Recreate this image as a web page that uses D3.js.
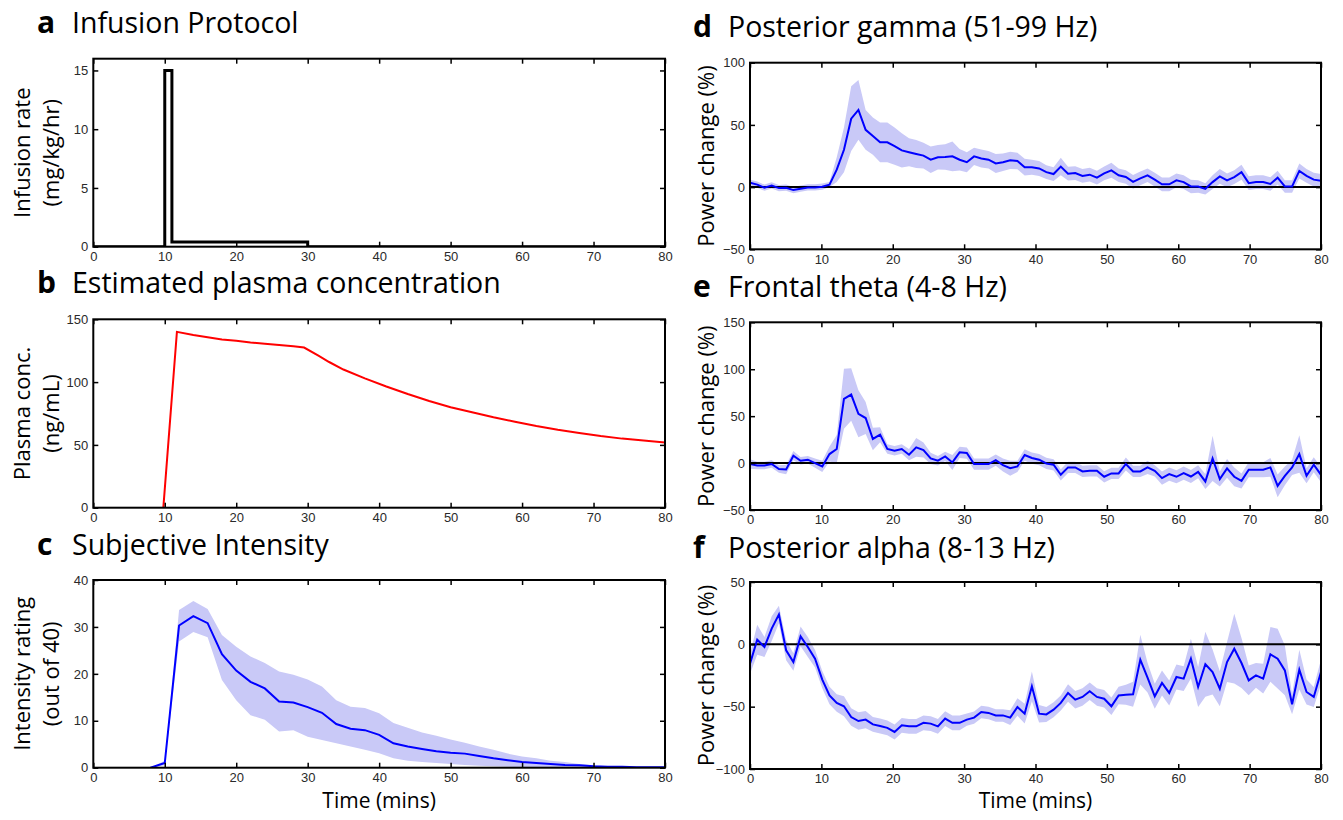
<!DOCTYPE html>
<html><head><meta charset="utf-8">
<script src="https://cdn.jsdelivr.net/npm/d3@7"></script>
<style>body{margin:0;background:#fff;} svg{display:block;}</style>
</head><body>
<svg id="chart" width="1343" height="820"></svg>
<script>
// ---------------- DATA ----------------
const xTicks = [0, 10, 20, 30, 40, 50, 60, 70, 80];

// a: infusion protocol (step path)
const infT    = [0, 10, 10, 11, 11, 30, 30, 80];
const infRate = [0, 0, 15, 15, 0.4, 0.4, 0, 0];
const aTicks = [0, 5, 10, 15];

// b: estimated plasma concentration
const plasmaT = [9.8, 11.7, 14, 16, 18, 20, 22, 24, 26, 28, 29.5, 31.5, 33, 35, 38, 41, 44, 47, 50, 53, 56, 59, 62, 65, 68, 71, 74, 77, 80];
const plasmaC = [0, 140, 137.5, 135.7, 134, 133, 131.5, 130.5, 129.5, 128.5, 127.5, 121, 116, 110, 103, 96.5, 90.5, 85, 80, 76, 72, 68.5, 65, 62, 59.5, 57, 55, 53.5, 52];
const bTicks = [0, 50, 100, 150];

// c: subjective intensity
const intT  = [8,10,12,14,16,18,20,22,24,26,28,30,32,34,36,38,40,42,44,46,48,50,52,54,56,58,60,62,64,66,68,70,72,74,76,78,80];
const intM  = [0,1,30.3,32.3,30.8,24.2,20.7,18.3,16.9,14.1,13.9,12.9,11.7,9.3,8.3,8.0,7.0,5.2,4.5,4.0,3.5,3.2,3.0,2.5,2.0,1.6,1.2,1.0,0.8,0.6,0.5,0.3,0.2,0.2,0.1,0.1,0.1];
const intHi = [0,1.5,33.6,35.5,33.8,28.3,25.8,23.7,22.3,20.5,19.8,18.8,17.3,14.4,13.0,12.7,11.6,9.5,8.5,7.5,6.8,6.0,5.3,4.5,3.8,3.0,2.4,2.0,1.5,1.2,0.8,0.5,0.3,0.3,0.2,0.2,0.2];
const intLo = [0,0.5,26.9,28.9,27.8,18.7,14.4,11.2,10.2,7.7,8.0,6.6,5.9,5.2,4.5,3.8,3.1,2.0,1.5,1.2,1.0,0.8,0.6,0.4,0.3,0.2,0.1,0,0,0,0,0,0,0,0,0,0];
const cTicks = [0, 10, 20, 30, 40];

// EEG sample grid: 80 samples spanning 0-80 min
const eegT = d3.range(80).map(i => i * 80 / 79);

// d: posterior gamma
const gammaM = [3.5,2,-0.5,1.3,-0.8,-0.5,-2.4,-1.3,-0.3,-0.3,
  0.3,2,14,30,55,62,46,41,36,36,
  33,29.5,28,26.6,25.3,22,24,24.2,24.7,22,
  20,24.7,23,22,19,20,21.5,21,16,16,
  15,12,10.5,16.5,10.8,11.3,9,10,7.6,11,
  13.5,9.5,8.1,4.2,7,9.5,6,2.2,2.2,5.4,
  4,0.5,0.5,-1.4,4,8.6,5.4,8,12,3.2,
  4,4,2.5,7.6,0.5,0.5,13,9,6,5];
const gammaE = [2.5,2.5,2.5,2.5,2.5,2.5,2.5,2.5,2.5,2.5,
  2.5,2,10,18,26,24,16,15,16,16,
  15,13.7,11.3,11.3,10.4,10.6,9.8,10.3,12,8.6,
  8,7,7.3,7,7.6,7,7,6.6,6.7,6,
  6,5.5,5.5,7,5.5,5.5,5.5,5.5,5.5,5.5,
  6,5.5,5.5,5.5,5.5,5.5,5.5,5.5,5.5,5.5,
  5.5,5.5,5,4.5,5.5,6,5.5,5.5,6,5.5,
  5.5,5.5,5.5,5.5,5,5,6,5.5,5.5,5.5];
const dTicks = [-50, 0, 50, 100];

// e: frontal theta
const thetaM = [-1,-2.5,-2.5,-1,-6.4,-6.8,7.9,2.5,3.6,0,
  -3.6,9.6,15,68.5,73,52.5,48,25.7,30.3,15,
  13.2,15,8.9,16.8,13.9,5,2.5,7.1,0.7,11.4,
  10.7,-1,-1,-1,3.2,-2.1,-5.4,-3.6,8.6,5.4,
  3.6,-0.4,-1.8,-12.5,-4.6,-4.6,-8.9,-8.2,-8.2,-14.6,
  -11,-11,-1,-8.9,-8.9,-4.6,-8.2,-16,-11.8,-14.6,
  -10.7,-14.3,-9.3,-19.6,5,-17,-5.7,-14.6,-19,-7.1,
  -7.1,-7.1,-4.6,-24.3,-13.6,-4.6,9.6,-13.6,-1.8,-12.5];
const thetaE = [5,4,4,4,4,5,5,4,4,5,
  6,8,15,32,28,25,17,12,8,5,
  5,5,6,10,8,6,5,5,8,6,
  6,6,6,6,6,7,8,6,6,6,
  6,6,6,6,6,6,6,6,6,6,
  6,6,7,6,6,7,6,7,7,7,
  7,7,7,8,24,8,10,10,8,8,
  8,8,10,12,10,8,20,8,8,8];
const eTicks = [-50, 0, 50, 100, 150];

// f: posterior alpha
const alphaM = [-15.5,3.7,-2.1,12.6,24,-4.8,-14.2,6.4,-2.1,-11.5,
  -28.3,-41,-47,-49.7,-58.3,-61.5,-60.4,-64.2,-65.5,-67,
  -70.3,-65,-65.8,-65.8,-63,-63.6,-65.8,-59.6,-63,-63,
  -60.4,-58.8,-54.3,-55,-57,-57,-58.8,-50.3,-55.6,-33.7,
  -55.6,-56.2,-52.4,-47,-39,-44.4,-42.2,-37.7,-42.2,-43.6,
  -49.7,-41,-40.4,-40.1,-12.3,-26.7,-41.7,-31,-39,-26.2,
  -27.5,-11.5,-34.2,-16,-22.2,-35.6,-14.2,-3.5,-15,-28.9,
  -24.9,-27.5,-8,-11.5,-20.9,-48.1,-20.3,-38.2,-42.2,-22.2];
const alphaE = [8,12,8,10,7,8,7,8,8,7,
  7,7,7,8,7,7,7,6,6,6,
  6,6,6,6,6,6,6,6,6,6,
  5,5,5,5,5,5,6,7,8,12,
  7,6,6,6,7,7,7,7,7,7,
  7,7,8,10,20,12,10,10,10,10,
  10,16,16,26,18,14,16,28,20,12,
  10,12,22,24,20,8,16,10,8,10];
const fTicks = [-100, -50, 0, 50];

// ---------------- DRAWING ----------------
const svg = d3.select("#chart");
const BAND = "#c9c9f7", BLUE = "#0000ff";
const L = {x0: 93.3, x1: 665}, R = {x0: 750, x1: 1321};
let clipN = 0;

function panel(o) {
  const g = svg.append("g");
  const x = d3.scaleLinear().domain([0, 80]).range([o.x0, o.x1]);
  const y = d3.scaleLinear().domain(o.yDomain).range([o.yBot, o.yTop]);
  const id = "clip" + (clipN++);
  g.append("clipPath").attr("id", id).append("rect")
    .attr("x", o.x0).attr("y", o.yTop).attr("width", o.x1 - o.x0).attr("height", o.yBot - o.yTop);
  const pg = g.append("g").attr("clip-path", `url(#${id})`);
  if (o.band) {
    pg.append("path").datum(o.band)
      .attr("d", d3.area().x(d => x(d.t)).y0(d => y(d.lo)).y1(d => y(d.hi)))
      .attr("fill", BAND).attr("stroke", "none");
  }
  if (o.zero) {
    pg.append("line").attr("x1", o.x0).attr("x2", o.x1).attr("y1", y(0)).attr("y2", y(0))
      .attr("stroke", "#000").attr("stroke-width", 2);
  }
  pg.append("path").datum(o.line)
    .attr("d", d3.line().x(d => x(d.t)).y(d => y(d.v)))
    .attr("fill", "none").attr("stroke", o.color).attr("stroke-width", o.lw)
    .attr("stroke-linejoin", "miter");

  const styleAxis = sel => {
    sel.select(".domain").remove();
    sel.selectAll(".tick line").attr("stroke", "#000").attr("stroke-width", 1.5);
    sel.selectAll(".tick text").attr("fill", "#2a2a2a")
      .style("font-family", "'Liberation Sans', Arial, sans-serif").style("font-size", "13px");
  };
  g.append("g").attr("transform", `translate(0,${o.yBot})`)
    .call(d3.axisBottom(x).tickValues(xTicks).tickSize(-5).tickPadding(5)).call(styleAxis);
  g.append("g").attr("transform", `translate(0,${o.yTop})`)
    .call(d3.axisTop(x).tickValues(xTicks).tickSize(-5).tickFormat("")).call(styleAxis);
  g.append("g").attr("transform", `translate(${o.x0},0)`)
    .call(d3.axisLeft(y).tickValues(o.yTicks).tickSize(-5).tickPadding(5)).call(styleAxis);
  g.append("g").attr("transform", `translate(${o.x1},0)`)
    .call(d3.axisRight(y).tickValues(o.yTicks).tickSize(-5).tickFormat("")).call(styleAxis);
  g.append("rect").attr("x", o.x0).attr("y", o.yTop)
    .attr("width", o.x1 - o.x0).attr("height", o.yBot - o.yTop)
    .attr("fill", "none").attr("stroke", "#000").attr("stroke-width", 2);

  // title
  const tx = o.x0 < 400 ? 37 : 693;
  const t = svg.append("text").attr("x", tx).attr("y", o.titleY)
    .style("font-family", "'Open Sans', sans-serif").attr("fill", "#000");
  t.append("tspan").text(o.letter).style("font-weight", "bold").style("font-size", "30px");
  t.append("tspan").attr("x", tx + 35).text(o.title).style("font-size", "28.5px");

  // y label
  const cy = (o.yTop + o.yBot) / 2;
  o.ylabel.forEach((s, i) => {
    svg.append("text").attr("transform", `translate(${o.ylabelX[i]},${cy}) rotate(-90)`)
      .attr("text-anchor", "middle").attr("dy", "0.35em")
      .style("font-family", "'Open Sans', sans-serif").style("font-size", "22px")
      .text(s);
  });
  if (o.xlabel) {
    svg.append("text").attr("x", (o.x0 + o.x1) / 2).attr("y", 808)
      .attr("text-anchor", "middle")
      .style("font-family", "'Open Sans', sans-serif").style("font-size", "21px")
      .text(o.xlabel);
  }
}

const zip = (t, v) => t.map((tt, i) => ({t: tt, v: v[i]}));
const bandOf = (t, m, e) => t.map((tt, i) => ({t: tt, lo: m[i] - e[i], hi: m[i] + e[i]}));

panel({...L, yTop: 58.7, yBot: 246.7, yDomain: [0, 16], yTicks: aTicks,
  line: zip(infT, infRate), color: "#000", lw: 3,
  letter: "a", title: "Infusion Protocol", titleY: 33,
  ylabel: ["Infusion rate", "(mg/kg/hr)"], ylabelX: [22, 51]});

panel({...L, yTop: 319.3, yBot: 507.7, yDomain: [0, 150], yTicks: bTicks,
  line: zip(plasmaT, plasmaC), color: "#ff0000", lw: 2,
  letter: "b", title: "Estimated plasma concentration", titleY: 293,
  ylabel: ["Plasma conc.", "(ng/mL)"], ylabelX: [22, 51]});

panel({...L, yTop: 580, yBot: 767.7, yDomain: [0, 40], yTicks: cTicks,
  band: intT.map((t, i) => ({t, lo: intLo[i], hi: intHi[i]})),
  line: zip(intT, intM), color: BLUE, lw: 2,
  letter: "c", title: "Subjective Intensity", titleY: 555,
  ylabel: ["Intensity rating", "(out of 40)"], ylabelX: [22, 51], xlabel: "Time (mins)"});

panel({...R, yTop: 62.7, yBot: 249.3, yDomain: [-50, 100], yTicks: dTicks, zero: true,
  band: bandOf(eegT, gammaM, gammaE),
  line: zip(eegT, gammaM), color: BLUE, lw: 2,
  letter: "d", title: "Posterior gamma (51-99 Hz)", titleY: 37,
  ylabel: ["Power change (%)"], ylabelX: [706]});

panel({...R, yTop: 322.3, yBot: 510, yDomain: [-50, 150], yTicks: eTicks, zero: true,
  band: bandOf(eegT, thetaM, thetaE),
  line: zip(eegT, thetaM), color: BLUE, lw: 2,
  letter: "e", title: "Frontal theta (4-8 Hz)", titleY: 297,
  ylabel: ["Power change (%)"], ylabelX: [706]});

panel({...R, yTop: 582, yBot: 769, yDomain: [-100, 50], yTicks: fTicks, zero: true,
  band: bandOf(eegT, alphaM, alphaE),
  line: zip(eegT, alphaM), color: BLUE, lw: 2,
  letter: "f", title: "Posterior alpha (8-13 Hz)", titleY: 558,
  ylabel: ["Power change (%)"], ylabelX: [706], xlabel: "Time (mins)"});
</script>
</body></html>
